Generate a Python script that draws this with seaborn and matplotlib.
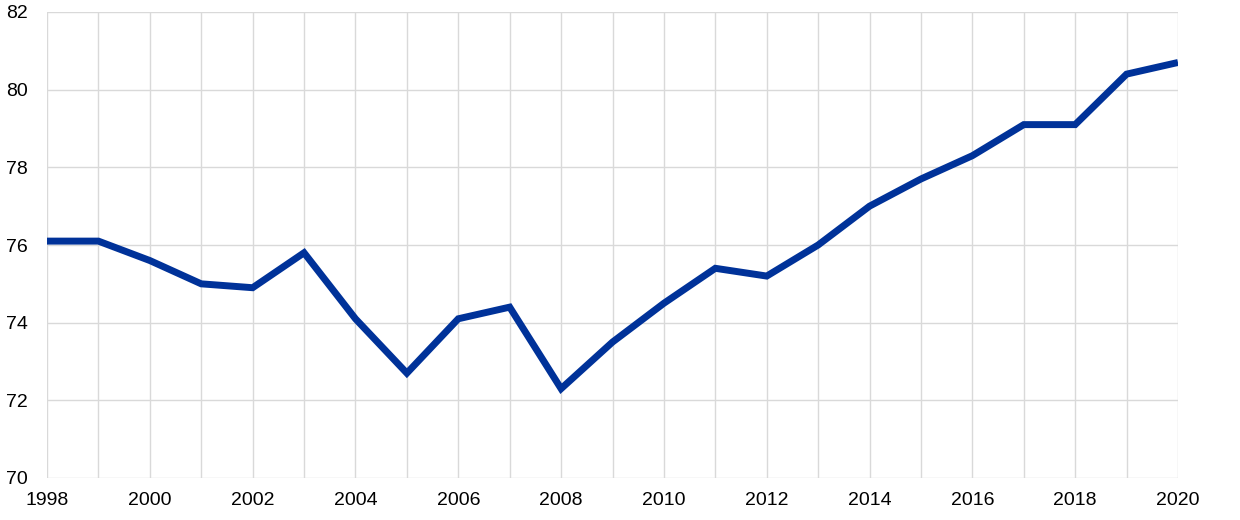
import matplotlib
matplotlib.use("Agg")
import matplotlib.pyplot as plt
import seaborn as sns
import pandas as pd

years = list(range(1998, 2021))
values = [76.1, 76.1, 75.6, 75.0, 74.9, 75.8, 74.1, 72.7, 74.1, 74.4, 72.3,
          73.5, 74.5, 75.4, 75.2, 76.0, 77.0, 77.7, 78.3, 79.1, 79.1, 80.4, 80.7]
yticks = [70, 72, 74, 76, 78, 80, 82]
xticks = list(range(1998, 2021, 2))

df = pd.DataFrame({"year": years, "value": values})

sns.set_theme(style="white")
plt.rcParams['font.family'] = ['Liberation Sans', 'DejaVu Sans']

fig = plt.figure(figsize=(12.4, 5.2), dpi=100)
ax = fig.add_axes([47/1240, 1 - 478/520, (1178-47)/1240, (478-12)/520])

sns.lineplot(data=df, x="year", y="value", ax=ax, color="#003299", linewidth=5,
             solid_joinstyle="miter", solid_capstyle="butt")

ax.set_xlim(1998, 2020)
ax.set_ylim(70, 82)
ax.set_xticks(years, minor=True)
ax.set_xticks(xticks)
ax.set_xticklabels([str(x) for x in xticks])
ax.set_yticks(yticks)
ax.grid(True, which="major", color="#d9d9d9", linewidth=1)
ax.grid(True, which="minor", axis="x", color="#d9d9d9", linewidth=1)
ax.tick_params(axis="both", which="both", length=0, labelsize=14, colors="black")
ax.tick_params(axis="x", pad=10)
ax.tick_params(axis="y", pad=14)
for s in ax.spines.values():
    s.set_visible(False)
ax.set_xlabel("")
ax.set_ylabel("")
ax.set_axisbelow(True)

fig.savefig("out.png", dpi=100)
